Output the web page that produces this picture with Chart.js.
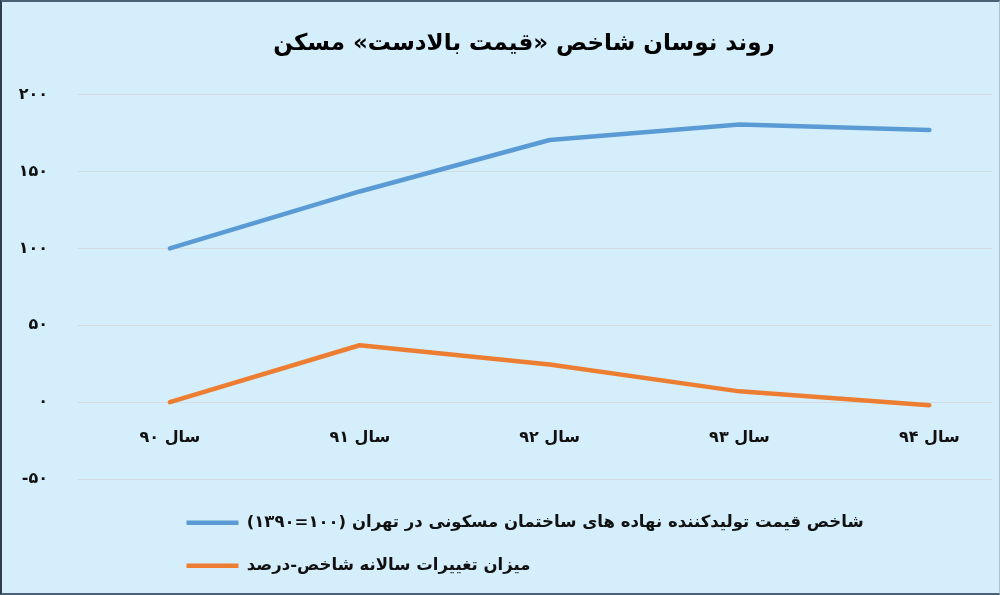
<!DOCTYPE html>
<html>
<head>
<meta charset="utf-8">
<script src="https://cdn.jsdelivr.net/npm/chart.js@4.4.1/dist/chart.umd.min.js"></script>
<style>
  html, body { margin: 0; padding: 0; background: #d4eefb; }
  #wrap { position: relative; width: 1000px; height: 595px; background: #d4eefb; }
  #c { direction: rtl; }
  #frame { position: absolute; inset: 0; box-sizing: border-box; pointer-events: none;
           border-left: 2px solid #2c3e50; border-top: 2px solid #4a6274; border-bottom: 2px solid #4a6274; border-right: 1px solid #a9c4d3; }
</style>
</head>
<body>
<div id="wrap"><canvas id="c"></canvas><div id="frame"></div></div>
<script>
const titleText = 'روند نوسان شاخص «قیمت بالادست» مسکن';
const categories = ['سال ۹۰', 'سال ۹۱', 'سال ۹۲', 'سال ۹۳', 'سال ۹۴'];
const seriesNames = [
  'شاخص قیمت تولیدکننده نهاده های ساختمان مسکونی در تهران (۱۰۰=۱۳۹۰)',
  'میزان تغییرات سالانه شاخص-درصد'
];
const indexSeries = [100, 137, 170.5, 180.5, 177];
const changeSeries = [0, 37, 24.5, 7, -2];
const yTickValues = [-50, 0, 50, 100, 150, 200];
const yTickLabels = ['\u200E-۵۰', '۰', '۵۰', '۱۰۰', '۱۵۰', '۲۰۰'];

const FONT = "'DejaVu Sans', 'Noto Sans', sans-serif";

const toPoints = arr => arr.map((v, i) => ({ x: i, y: v }));

const shiftPlugin = {
  id: 'shiftBoxes',
  afterLayout(chart) {
    if (chart.legend) { chart.legend.left = 160; chart.legend.top = 488; }
    if (chart.titleBlock) { chart.titleBlock.left += 28; chart.titleBlock.right += 28; }
  }
};

new Chart(document.getElementById('c'), {
  type: 'line',
  data: {
    datasets: [
      { label: seriesNames[0], data: toPoints(indexSeries), borderColor: '#5b9bd5', backgroundColor: '#5b9bd5',
        borderWidth: 4.5, pointRadius: 0, borderCapStyle: 'round', borderJoinStyle: 'round', tension: 0 },
      { label: seriesNames[1], data: toPoints(changeSeries), borderColor: '#ed7d31', backgroundColor: '#ed7d31',
        borderWidth: 4.5, pointRadius: 0, borderCapStyle: 'round', borderJoinStyle: 'round', tension: 0 }
    ]
  },
  options: {
    responsive: true,
    maintainAspectRatio: false,
    animation: false,
    layout: { padding: { left: 0, right: 8, top: 0, bottom: 20 } },
    scales: {
      x: {
        type: 'linear',
        position: { y: 0 },
        min: -0.484,
        max: 4.33,
        grid: { display: false, drawTicks: false },
        border: { display: false },
        afterBuildTicks: s => { s.ticks = categories.map((_, i) => ({ value: i })); },
        ticks: {
          autoSkip: false, maxRotation: 0,
          padding: 26,
          color: '#111',
          font: { family: FONT, size: 16, weight: 'bold' },
          callback: v => categories[v]
        }
      },
      y: {
        min: -50, max: 200,
        afterBuildTicks: s => { s.ticks = yTickValues.map(v => ({ value: v })); },
        afterFit: s => { s.width = 78; },
        grid: { color: '#d3dbe0', lineWidth: 1, drawTicks: false },
        border: { display: false },
        ticks: {
          padding: 30,
          color: '#111',
          font: { family: FONT, size: 16, weight: 'bold' },
          callback: v => yTickLabels[yTickValues.indexOf(v)]
        }
      }
    },
    plugins: {
      title: {
        display: true,
        text: titleText,
        color: '#000',
        font: { family: FONT, size: 23, weight: 'bold' },
        padding: { top: 30, bottom: 37 }
      },
      legend: {
        display: true,
        position: 'bottom',
        align: 'start',
        labels: {
          usePointStyle: true,
          pointStyle: 'line',
          pointStyleWidth: 52,
          padding: 26.5,
          color: '#111',
          font: { family: FONT, size: 16.5, weight: 'bold' }
        }
      },
      tooltip: { enabled: false }
    }
  },
  plugins: [shiftPlugin]
});
</script>
</body>
</html>
